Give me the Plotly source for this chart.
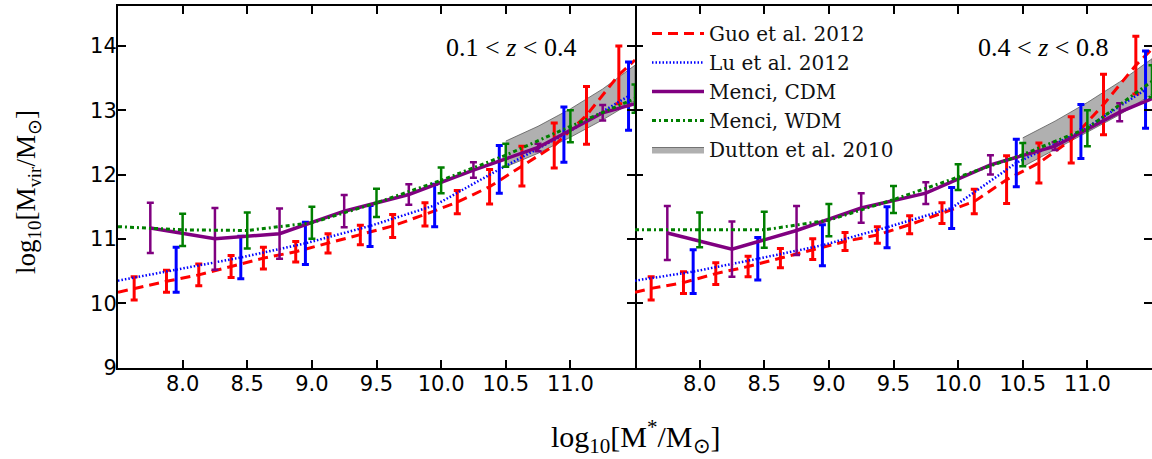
import plotly.graph_objects as go

W, H = 1152, 459

# ---------------- data ----------------
# Guo et al. 2012 (red dashed)
guo_x = [7.625, 7.875, 8.125, 8.375, 8.625, 8.875, 9.125, 9.375,
         9.625, 9.875, 10.125, 10.375, 10.625, 10.875, 11.125, 11.375]
guo_z1 = [10.23, 10.34, 10.44, 10.57, 10.70, 10.80, 10.93, 11.06,
          11.20, 11.38, 11.57, 11.81, 12.13, 12.45, 12.92, 13.55]
guo_e1 = [0.18, 0.17, 0.17, 0.17, 0.17, 0.16, 0.15, 0.15,
          0.18, 0.18, 0.18, 0.27, 0.31, 0.35, 0.45, 0.45]
guo_z2 = [10.23, 10.32, 10.46, 10.57, 10.70, 10.84, 10.96, 11.06,
          11.22, 11.40, 11.58, 11.92, 12.18, 12.54, 13.09, 13.70]
guo_e2 = [0.18, 0.17, 0.17, 0.16, 0.15, 0.16, 0.14, 0.13,
          0.14, 0.16, 0.19, 0.37, 0.31, 0.36, 0.47, 0.45]
guo_edge_x = [7.5, 11.5]
guo_edge_z1 = [10.17, 13.78]
guo_edge_z2 = [10.17, 13.95]

# Lu et al. 2012 (blue dotted)
lu_x = [7.95, 8.45, 8.95, 9.45, 9.95, 10.45, 10.95, 11.45]
lu_z1 = [10.52, 10.71, 10.93, 11.20, 11.52, 12.08, 12.62, 13.22]
lu_e1 = [0.35, 0.33, 0.33, 0.32, 0.33, 0.37, 0.43, 0.53]
lu_z2 = [10.49, 10.69, 10.90, 11.18, 11.48, 12.18, 12.67, 13.32]
lu_e2 = [0.34, 0.33, 0.32, 0.32, 0.32, 0.37, 0.42, 0.60]
lu_edge_x = [7.5]
lu_edge_z1 = [10.35]
lu_edge_z2 = [10.35]

# Menci, CDM (purple solid)
cdm_x = [7.75, 8.25, 8.75, 9.25, 9.75, 10.25, 10.75, 11.25]
cdm_z1 = [11.17, 11.00, 11.08, 11.43, 11.69, 12.07, 12.42, 12.96]
cdm_e1 = [0.39, 0.48, 0.39, 0.25, 0.16, 0.12, 0.06, 0.12]
cdm_z2 = [11.09, 10.84, 11.13, 11.48, 11.71, 12.15, 12.44, 12.97]
cdm_e2 = [0.42, 0.43, 0.38, 0.23, 0.17, 0.15, 0.06, 0.14]
cdm_edge_x = [11.5]
cdm_edge_z1 = [13.10]
cdm_edge_z2 = [13.18]

# Menci, WDM (green dash-dot)
wdm_x = [8.0, 8.5, 9.0, 9.5, 10.0, 10.5, 11.0, 11.5]
wdm_z1 = [11.14, 11.13, 11.25, 11.56, 11.91, 12.30, 12.75, 13.18]
wdm_e1 = [0.25, 0.28, 0.25, 0.22, 0.20, 0.18, 0.25, 0.22]
wdm_z2 = [11.14, 11.14, 11.29, 11.61, 11.96, 12.31, 12.72, 13.45]
wdm_e2 = [0.27, 0.28, 0.25, 0.21, 0.20, 0.18, 0.28, 0.25]
wdm_edge_x = [7.5]
wdm_edge_z1 = [11.19]
wdm_edge_z2 = [11.14]

# Dutton et al. 2010 (grey band)
dut_x = [10.5, 10.75, 11.0, 11.25, 11.5]
dut_lo_z1 = [12.12, 12.33, 12.58, 12.85, 13.15]
dut_hi_z1 = [12.52, 12.75, 13.02, 13.33, 13.70]
dut_lo_z2 = [12.12, 12.38, 12.66, 12.93, 13.25]
dut_hi_z2 = [12.57, 12.83, 13.12, 13.44, 13.80]

x_ticks = [8.0, 8.5, 9.0, 9.5, 10.0, 10.5, 11.0]
y_ticks = [9, 10, 11, 12, 13, 14]
panel_labels = ["0.1 &lt; <i>z</i> &lt; 0.4", "0.4 &lt; <i>z</i> &lt; 0.8"]

# ---------------- styles ----------------
RED, BLUE, PURPLE, GREEN = "#ff0000", "#0000ff", "#800080", "#007f00"
SERIF = "Liberation Serif"
LEGSERIF = "DejaVu Serif"


def px(x):
    return x / W


def py(y):
    return 1 - y / H


def merge(xs, ys, ex, ey):
    pts = sorted(zip(list(xs) + list(ex), list(ys) + list(ey)))
    return [p[0] for p in pts], [p[1] for p in pts]


fig = go.Figure()

panels = [
    dict(xa="x", ya="y", guo=(guo_z1, guo_e1, guo_edge_z1), lu=(lu_z1, lu_e1, lu_edge_z1),
         cdm=(cdm_z1, cdm_e1, cdm_edge_z1), wdm=(wdm_z1, wdm_e1, wdm_edge_z1),
         dut=(dut_lo_z1, dut_hi_z1), leg=False),
    dict(xa="x2", ya="y2", guo=(guo_z2, guo_e2, guo_edge_z2), lu=(lu_z2, lu_e2, lu_edge_z2),
         cdm=(cdm_z2, cdm_e2, cdm_edge_z2), wdm=(wdm_z2, wdm_e2, wdm_edge_z2),
         dut=(dut_lo_z2, dut_hi_z2), leg=True),
]

for p in panels:
    xa, ya, leg = p["xa"], p["ya"], p["leg"]
    lo, hi = p["dut"]
    # grey band
    fig.add_trace(go.Scatter(
        x=dut_x + dut_x[::-1], y=hi + lo[::-1], xaxis=xa, yaxis=ya,
        mode="lines", fill="toself", fillcolor="rgba(128,128,128,0.62)",
        line=dict(color="rgba(90,90,90,0.8)", width=1),
        name="Dutton et al. 2010", showlegend=leg, legendrank=5, legendgroup="d"))

    series = [
        ("Guo et al. 2012", guo_x, p["guo"], guo_edge_x, RED,
         dict(color=RED, width=3, dash="10px,6px"), 3, 1),
        ("Lu et al. 2012", lu_x, p["lu"], lu_edge_x, BLUE,
         dict(color=BLUE, width=2.5, dash="1.5px,2px"), 3, 2),
        ("Menci, CDM", cdm_x, p["cdm"], cdm_edge_x, PURPLE,
         dict(color=PURPLE, width=3.5), 2.5, 3),
        ("Menci, WDM", wdm_x, p["wdm"], wdm_edge_x, GREEN,
         dict(color=GREEN, width=3, dash="4px,3px,2px,3px"), 2.5, 4),
    ]
    for name, xs, (ys, es, edge_y), edge_x, col, lstyle, thick, rank in series:
        lx, ly = merge(xs, ys, edge_x, edge_y)
        fig.add_trace(go.Scatter(
            x=lx, y=ly, xaxis=xa, yaxis=ya, mode="lines", line=lstyle,
            name=name, showlegend=leg, legendrank=rank, legendgroup=name))
        fig.add_trace(go.Scatter(
            x=xs, y=ys, xaxis=xa, yaxis=ya, mode="markers",
            marker=dict(size=1, color=col, opacity=0),
            error_y=dict(type="data", array=es, visible=True, color=col,
                         thickness=thick, width=3.5),
            showlegend=False, hoverinfo="skip"))

# ---------------- axes ----------------
x_dom1 = [px(118), px(635)]
x_dom2 = [px(635), 1.0]
y_dom = [py(367.5), py(6)]
tickfont = dict(family="DejaVu Sans", size=21, color="black")

common_x = dict(range=[7.5, 11.5], tickvals=x_ticks, ticktext=[f"{v:.1f}" for v in x_ticks],
                ticks="inside", ticklen=8, tickwidth=1.5, tickcolor="black",
                showline=True, linewidth=2, linecolor="black", mirror="ticks",
                showgrid=False, zeroline=False, tickfont=tickfont, automargin=False,
                ticklabelstandoff=-4)
common_y = dict(range=[9, 14.62], tickvals=y_ticks, ticks="inside", ticklen=8, tickwidth=1.5,
                tickcolor="black", linewidth=2, linecolor="black",
                mirror="ticks", showgrid=False, zeroline=False, tickfont=tickfont,
                automargin=False)

fig.update_layout(
    width=W, height=H, margin=dict(l=0, r=0, t=0, b=0),
    paper_bgcolor="white", plot_bgcolor="white",
    xaxis=dict(domain=x_dom1, anchor="y", **common_x),
    xaxis2=dict(domain=x_dom2, anchor="y2", **common_x),
    yaxis=dict(domain=y_dom, anchor="x", showline=True, ticklabelstandoff=-5, **common_y),
    yaxis2=dict(domain=y_dom, anchor="x2", showline=False, showticklabels=False, **common_y),
    legend=dict(x=px(647), y=py(14), xanchor="left", yanchor="top",
                bgcolor="rgba(0,0,0,0)", borderwidth=0, tracegroupgap=2.5,
                font=dict(family=LEGSERIF, size=20, color="#111111"),
                itemwidth=52, traceorder="normal"),
)

annots = [
    dict(text=panel_labels[0], x=px(511), y=py(48)),
    dict(text=panel_labels[1], x=px(1043), y=py(47)),
]
for a in annots:
    fig.add_annotation(xref="paper", yref="paper", xanchor="center", yanchor="middle",
                       showarrow=False, font=dict(family=SERIF, size=26, color="black"), **a)

fig.add_annotation(xref="paper", yref="paper", x=px(636), y=py(436), xanchor="center",
                   yanchor="middle", showarrow=False,
                   text="log<sub>10</sub>[M<sup>*</sup>/M<sub>⊙</sub>]",
                   font=dict(family=SERIF, size=30, color="black"))
fig.add_annotation(xref="paper", yref="paper", x=px(28), y=py(192), xanchor="center",
                   yanchor="middle", showarrow=False, textangle=-90,
                   text="log<sub>10</sub>[M<sub>vir</sub>/M<sub>⊙</sub>]",
                   font=dict(family=SERIF, size=27, color="black"))

fig.write_html("out.html", config={"displayModeBar": False},
               post_script="document.body.style.margin='0px';")
